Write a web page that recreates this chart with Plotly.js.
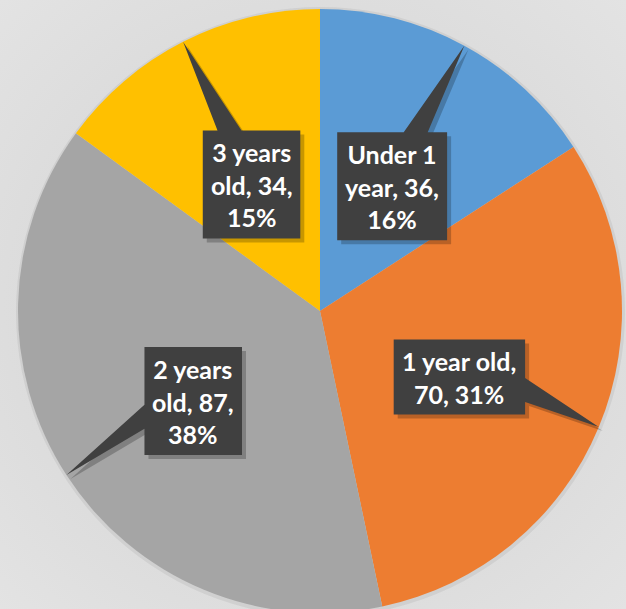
<!DOCTYPE html>
<html>
<head>
<meta charset="utf-8">
<script src="https://cdn.plot.ly/plotly-3.0.1.min.js"></script>
<style>
  html, body { margin: 0; padding: 0; overflow: hidden; width: 626px; height: 609px; }
  body { background: radial-gradient(ellipse at 50% 50%, #d4d4d4 0%, #d9d9d9 50%, #e3e3e3 100%); }
  #chart { width: 626px; height: 620px; }
</style>
</head>
<body>
<div id="chart"></div>
<script>
// ---- data ----
const categories = ['Under 1 year', '1 year old', '2 years old', '3 years old'];
const values = [36, 70, 87, 34];
const colors = ['#5B9BD5', '#ED7D31', '#A5A5A5', '#FFC000'];

// ---- layout geometry (pixels) ----
const W = 626, H = 620;
const cx = 320, cy = 311, R = 302;
const FONT = 'Lato';
const FSIZE = 25;
const LINE_H = 33;
const PAD_X = 8;

const total = values.reduce((a, b) => a + b, 0);
const pct = values.map(v => Math.round(v / total * 100) + '%');

function wrap(str, maxChars) {
  const words = str.split(' ');
  const lines = [];
  let cur = '';
  for (const w of words) {
    const cand = cur ? cur + ' ' + w : w;
    if (cand.length > maxChars && cur) { lines.push(cur); cur = w; }
    else cur = cand;
  }
  if (cur) lines.push(cur);
  return lines;
}

const canvas = document.createElement('canvas');
const ctx = canvas.getContext('2d');
ctx.font = 'bold ' + FSIZE + 'px ' + FONT;

const px = x => x / W;
const py = y => 1 - y / H;

const shapes = [];
const annotations = [];

// faint pie shadow
shapes.push({
  type: 'circle', xref: 'paper', yref: 'paper', layer: 'below',
  x0: px(cx - R - 2), x1: px(cx + R + 3), y0: py(cy + R + 4), y1: py(cy - R - 2),
  fillcolor: 'rgba(0,0,0,0.06)', line: { width: 0 }
});

let cum = 0;
values.forEach((v, i) => {
  const a = (cum + v / 2) / total * 2 * Math.PI;
  cum += v;
  const sx = Math.sin(a), sy = -Math.cos(a);
  const tip = [cx + R * sx, cy + R * sy];
  const c = [cx + 0.5 * R * sx, cy + 0.5 * R * sy + 8];
  const lines = wrap(categories[i] + ', ' + values[i] + ', ' + pct[i], 11);
  const tw = Math.max(...lines.map(l => ctx.measureText(l).width));
  const bw = tw + 2 * PAD_X;
  const bh = LINE_H * lines.length + 9;
  const x0 = c[0] - bw / 2, x1 = c[0] + bw / 2, y0 = c[1] - bh / 2, y1 = c[1] + bh / 2;
  const dx = tip[0] - c[0], dy = tip[1] - c[1];
  const tX = (bw / 2) / Math.abs(dx), tY = (bh / 2) / Math.abs(dy);
  const hw = 12;
  let pts;
  const clampX = x => Math.max(x0 + hw, Math.min(x1 - hw, x));
  const clampY = y => Math.max(y0 + hw, Math.min(y1 - hw, y));
  if (tX < tY) {
    const yy = clampY(c[1] + 0.55 * tX * dy);
    if (dx > 0) { // right edge
      pts = [[x0, y0], [x1, y0], [x1, yy - hw], tip, [x1, yy + hw], [x1, y1], [x0, y1]];
    } else { // left edge
      pts = [[x0, y0], [x1, y0], [x1, y1], [x0, y1], [x0, yy + hw], tip, [x0, yy - hw]];
    }
  } else {
    const xx = clampX(c[0] + 0.85 * tY * dx);
    if (dy < 0) { // top edge
      pts = [[x0, y0], [xx - hw, y0], tip, [xx + hw, y0], [x1, y0], [x1, y1], [x0, y1]];
    } else { // bottom edge
      pts = [[x0, y0], [x1, y0], [x1, y1], [xx + hw, y1], tip, [xx - hw, y1], [x0, y1]];
    }
  }
  const toPath = (arr, ox, oy) => 'M ' + arr.map(q => px(q[0] + ox) + ',' + py(q[1] + oy)).join(' L ') + ' Z';
  shapes.push({
    type: 'path', xref: 'paper', yref: 'paper', layer: 'above',
    path: toPath(pts, 4, 4), fillcolor: 'rgba(0,0,0,0.22)', line: { width: 0 }
  });
  shapes.push({
    type: 'path', xref: 'paper', yref: 'paper', layer: 'above',
    path: toPath(pts, 0, 0), fillcolor: '#404040', line: { width: 0 }
  });
  annotations.push({
    xref: 'paper', yref: 'paper', x: px(c[0]), y: py(c[1]),
    xanchor: 'center', yanchor: 'middle', showarrow: false,
    text: lines.join('<br>'), align: 'center',
    font: { family: FONT, size: FSIZE, color: '#ffffff', weight: 'bold' }
  });
});

const trace = {
  type: 'pie',
  labels: categories,
  values: values,
  sort: false,
  direction: 'clockwise',
  rotation: 0,
  textinfo: 'none',
  hoverinfo: 'label+value+percent',
  marker: { colors: colors, line: { width: 0 } },
  domain: { x: [px(cx - R), px(cx + R)], y: [py(cy + R), py(cy - R)] },
  showlegend: false
};

const layout = {
  width: W, height: H,
  margin: { l: 0, r: 0, t: 0, b: 0 },
  paper_bgcolor: 'rgba(0,0,0,0)',
  plot_bgcolor: 'rgba(0,0,0,0)',
  showlegend: false,
  shapes: shapes,
  annotations: annotations
};

Plotly.newPlot('chart', [trace], layout, { staticPlot: true, displayModeBar: false });
</script>
</body>
</html>
